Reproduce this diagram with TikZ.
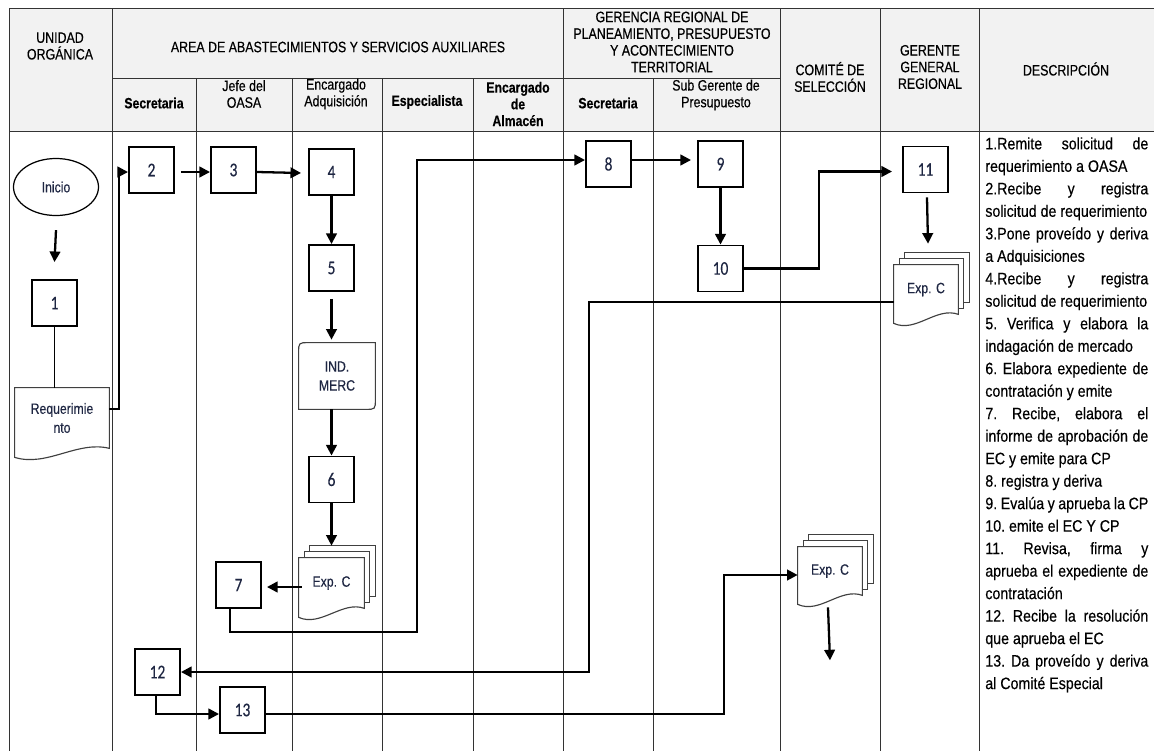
\documentclass[tikz,border=0pt]{standalone}
\usepackage{fontspec}
\setmainfont{Liberation Sans}[FakeStretch=0.82, FakeBold=0.4]
\newfontfamily\descfamily{Liberation Sans}[FakeStretch=0.86, FakeBold=0.4]
\newfontfamily\numfamily{Carlito}[FakeStretch=0.8, FakeBold=0.3]
\usepackage{tikz}
\usetikzlibrary{arrows.meta,calc,shapes.geometric}
\newdimen\pxu \pxu=0.02cm
\definecolor{headgray}{RGB}{242,242,242}
\definecolor{inkblue}{RGB}{30,38,66}
% document shape below a node: wavy bottom edge
\newcommand{\docoutline}[2]{%
  \draw[docline] (#1.north west) -- (#1.north east) -- (#1.south east)
    .. controls ($(#1.south east)+(-#2,-8)$) and ($(#1.south west)+(#2,19)$)
    .. ($(#1.south west)+(0,9)$) -- cycle;}
% three stacked documents
\newcommand{\stackdoc}[1]{%
  \draw[docline] ($(#1.north west)+(11,-6)$) -- ($(#1.north west)+(11,-12)$) -- ($(#1.north east)+(11,-12)$)
    -- ($(#1.south east)+(11,-12)$) -- ($(#1.south east)+(5.5,-12)$);
  \draw[docline] ($(#1.north west)+(5.5,0)$) -- ($(#1.north west)+(5.5,-6)$) -- ($(#1.north east)+(5.5,-6)$)
    -- ($(#1.south east)+(5.5,-6)$) -- ($(#1.south east)+(0,-6)$);
  \docoutline{#1}{22}}

\begin{document}
\begin{tikzpicture}[x=0.02cm, y=-0.02cm, >={Triangle[length=6pt,width=6pt]},
    gridline/.style={draw=black!80, line width=0.55pt},
    flow/.style={line width=1.3pt},
    docline/.style={draw=black!75, line width=0.65pt},
    stepbox/.style={draw, line width=1.1pt, minimum width=45\pxu, minimum height=46\pxu, inner sep=0pt,
      text=inkblue, font={\numfamily\fontsize{11}{13}\selectfont}},
    docnode/.style={inner sep=0pt, text=inkblue, align=center, font={\fontsize{8.5}{10.8}\selectfont}},
    headtext/.style={align=center, font={\fontsize{8.6}{9.5}\selectfont}},
    boldhead/.style={align=center, font={\bfseries\fontsize{8.5}{9.5}\selectfont}},
    desctext/.style={text width=163\pxu, align=justify, inner sep=0pt,
      font={\descfamily\fontsize{9.4}{12.8}\selectfont\frenchspacing\parindent=0pt\tolerance=10000\hyphenpenalty=10000}}]
    \useasboundingbox (0,0) rectangle (1154,751);

    % Header band
    \fill[headgray] (9,8) rectangle (1154,131);
    \draw[gridline] (9,8) -- (1154,8);
    \draw[gridline] (112,78) -- (780,78);
    \draw[gridline] (9,131) -- (1154,131);
    \foreach \x in {9,112,563,780,880,979} \draw[gridline] (\x,8) -- (\x,751);
    \foreach \x in {196,292,382,473,653} \draw[gridline] (\x,78) -- (\x,751);

    % Header texts
    \node[headtext] (hunidad) at (60,46) {UNIDAD\\ORGÁNICA};
    \node[headtext] (harea) at (338,47) {AREA DE ABASTECIMIENTOS Y SERVICIOS AUXILIARES};
    \node[headtext] (hgerencia) at (672,42) {GERENCIA REGIONAL DE\\PLANEAMIENTO, PRESUPUESTO\\Y ACONTECIMIENTO\\TERRITORIAL};
    \node[headtext] (hcomite) at (830,77) {COMITÉ DE\\SELECCIÓN};
    \node[headtext] (hgerente) at (930,67) {GERENTE\\GENERAL\\REGIONAL};
    \node[headtext] (hdesc) at (1066,69) {DESCRIPCIÓN};
    \node[boldhead] (hsec) at (154,103) {Secretaria};
    \node[headtext] (hjefe) at (244,94) {Jefe del\\OASA};
    \node[headtext] (hadq) at (336,94) {Encargado\\Adquisición};
    \node[boldhead] (hesp) at (427,102) {Especialista};
    \node[boldhead] (halm) at (518,104) {Encargado\\de\\Almacén};
    \node[boldhead] (hsecgr) at (608,103) {Secretaria};
    \node[headtext] (hsub) at (716,95) {Sub Gerente de\\Presupuesto};

    % Unidad organica
    \node[draw, ellipse, line width=0.7pt, minimum width=85\pxu, minimum height=57\pxu, inner sep=0pt,
      text=inkblue, font={\fontsize{8.5}{10}\selectfont}] (ini) at (56,187) {Inicio};
    \node[stepbox] (n1) at (54.5,303) {1};
    \node[docnode, minimum width=94\pxu, minimum height=60\pxu] (req) at (62,418) {Requerimie\\nto};
    \docoutline{req}{32}
    \draw[flow,->] ($(ini.south)+(0,14)$) -- ($(n1.north)+(0,-17)$);
    \draw[line width=0.6pt] (n1.south) -- (n1.south |- req.north);

    % Abastecimiento
    \node[stepbox] (n2) at (151.5,170) {2};
    \node[stepbox] (n3) at (233.5,170) {3};
    \node[stepbox] (n4) at (331.5,172) {4};
    \node[stepbox] (n5) at (331.5,268) {5};
    \node[docnode, minimum width=76\pxu, minimum height=66\pxu] (ind) at (337,376) {IND.\\MERC};
    \draw[docline] (ind.south west) -- ($(ind.north west)+(0,10)$) .. controls (ind.north west) .. ($(ind.north west)+(10,0)$)
      -- (ind.north east) -- ($(ind.south east)+(0,-10)$) .. controls (ind.south east) .. ($(ind.south east)+(-10,0)$) -- cycle;
    \node[stepbox] (n6) at (331.5,479.5) {6};
    \node[docnode, minimum width=65\pxu, minimum height=50\pxu] (expa) at (331.5,583) {Exp. C};
    \stackdoc{expa}
    \node[stepbox] (n7) at (238.5,585) {7};
    \node[stepbox] (n12) at (157.5,672) {12};
    \node[stepbox] (n13) at (242.5,710) {13};

    % Gerencia de planeamiento
    \node[stepbox] (n8) at (608.5,164) {8};
    \node[stepbox] (n9) at (720.5,164) {9};
    \node[stepbox] (n10) at (720.5,268.5) {10};

    % Comite y gerente general
    \node[stepbox] (n11) at (925.5,169.5) {11};
    \node[docnode, minimum width=64\pxu, minimum height=49\pxu] (expb) at (926,289.5) {Exp. C};
    \stackdoc{expb}
    \node[docnode, minimum width=64\pxu, minimum height=48\pxu] (expc) at (830,571) {Exp. C};
    \stackdoc{expc}

    % Flow
    \coordinate (turn7) at (417,632);
    \draw[flow,->] ($(req.north east)+(0,21)$) -- ++(10,0) |- ($(n2.west)+(0,2)$);
    \draw[flow,->] ($(n2.east)+(6,2)$) -- ($(n3.west)+(0,2)$);
    \draw[flow,->] ($(n3.east)+(0,2)$) -- ($(n4.west)+(-7,1)$);
    \draw[flow,->] (n4.south) -- (n5.north);
    \draw[flow,->] ($(n5.south)+(0,7)$) -- ($(n5.south |- ind.north)+(0,-3)$);
    \draw[flow,->] (n6.north |- ind.south) -- (n6.north);
    \draw[flow,->] (n6.south) -- ($(expa.north)+(0,-12)$);
    \draw[flow,->] ($(expa.west |- n7.east)+(3,2)$) -- ($(n7.east)+(5,2)$);
    \draw[flow,->] ($(n7.south west)+(15,0)$) |- (turn7) |- ($(n8.west)+(0,-4)$);
    \draw[flow,->] ($(n8.east)+(0,-4)$) -- ($(n9.west)+(-6,-4)$);
    \draw[flow,->] (n9.south) -- (n10.north);
    \draw[flow,->] (n10.east) -- ++(75,0) |- ($(n11.west)+(-10,2)$);
    \draw[flow,->] ($(n11.south)+(1.5,4)$) -- ($(expb.north)+(2,-21)$);
    \draw[flow,->] ($(expb.south west)+(0,-12)$) -- ++(-305,0) |- (n12.east);
    \draw[flow,->] ($(n12.south)+(-1.5,0)$) |- ($(n13.west)+(0,4)$);
    \draw[flow,->] ($(n13.east)+(0,4)$) -| ($(expc.west)+(-74,4)$) -- ($(expc.west)+(0,4)$);
    \coordinate (endc) at ($(expc.south)+(0,65)$);
    \draw[flow,->] ($(expc.south)+(-2,12)$) -- (endc);

    % Descripcion
    \node[desctext, anchor=north west] (desc) at (985,137) {%
      1.Remite solicitud de\linebreak requerimiento a OASA\par
      2.Recibe y registra\linebreak solicitud de requerimiento\par
      3.Pone proveído y deriva\linebreak a Adquisiciones\par
      4.Recibe y registra\linebreak solicitud de requerimiento\par
      5. Verifica y elabora la\linebreak indagación de mercado\par
      6. Elabora expediente de\linebreak contratación y emite\par
      7. Recibe, elabora el\linebreak informe de aprobación de\linebreak EC y emite para CP\par
      8. registra y deriva\par
      9. Evalúa y aprueba la CP\par
      10. emite el EC Y CP\par
      11. Revisa, firma y\linebreak aprueba el expediente de\linebreak contratación\par
      12. Recibe la resolución\linebreak que aprueba el EC\par
      13. Da proveído y deriva\linebreak al Comité Especial};
\end{tikzpicture}
\end{document}
